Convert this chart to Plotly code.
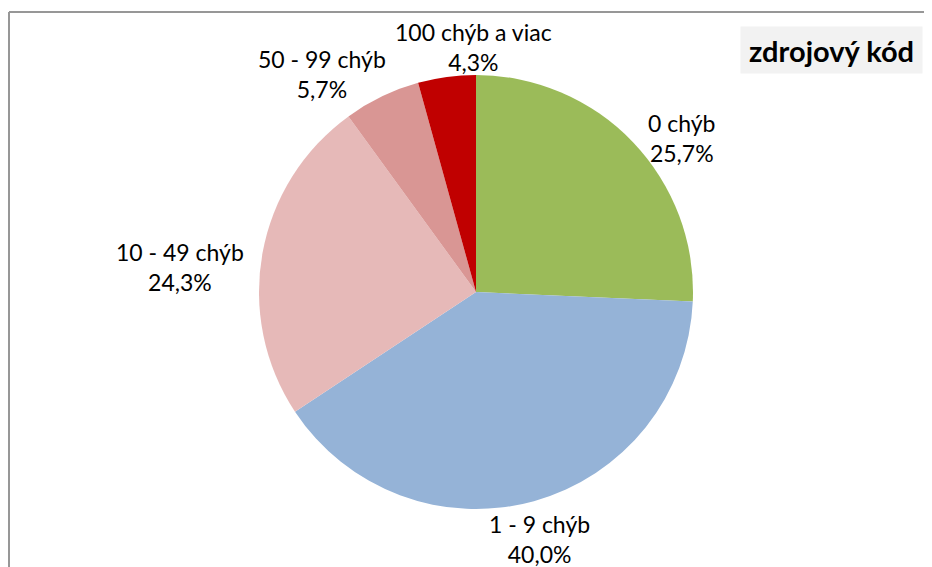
import plotly.graph_objects as go

# slices clockwise from 12 o'clock
labels = ["0 chýb", "1 - 9 chýb", "10 - 49 chýb", "50 - 99 chýb", "100 chýb a viac"]
shares = [25.7, 40.0, 24.3, 5.7, 4.3]
colors = ["#9BBB59", "#95B3D7", "#E6B9B8", "#D99694", "#C00000"]

# the page puts the figure 8px in from the top-left corner
OFF = 8
W, H = 932 - OFF, 567 - OFF
FONT = "Lato, Open Sans, sans-serif"


def fx(px):
    return (px - OFF) / W


def fy(py):
    return 1 - (py - OFF) / H


# where each data label sits (page pixel centre of the text block)
label_xy = [(682, 138), (539, 539), (180, 267), (322, 74), (474, 47)]

fig = go.Figure(go.Pie(
    labels=labels,
    values=shares,
    sort=False,
    direction="clockwise",
    rotation=0,
    marker=dict(colors=colors, line=dict(color="white", width=0)),
    textinfo="none",
    showlegend=False,
    hoverinfo="label+percent",
    domain=dict(x=[fx(259), fx(693)], y=[fy(509), fy(75)]),
))

annots = []
for lab, val, (px, py) in zip(labels, shares, label_xy):
    txt = f"{lab}<br>{val:.1f}%".replace(".", ",")
    annots.append(dict(text=txt, xref="paper", yref="paper",
                       x=fx(px), y=fy(py), xanchor="center", yanchor="middle",
                       showarrow=False, align="center",
                       font=dict(family=FONT, size=23, color="#000000")))

# title box
annots.append(dict(text="<b>zdrojový kód</b>", xref="paper", yref="paper",
                   x=fx(831.5), y=fy(50), xanchor="center", yanchor="middle",
                   showarrow=False, bgcolor="#F2F2F2", borderpad=0,
                   width=181, height=46,
                   font=dict(family=FONT, size=29, color="#000000")))

fig.update_layout(
    width=W, height=H,
    margin=dict(l=0, r=0, t=0, b=0),
    paper_bgcolor="white",
    shapes=[
        # chart frame, cut off on the right and bottom
        dict(type="line", xref="paper", yref="paper",
             x0=1 / W, x1=1.0, y0=1 - 3.9 / H, y1=1 - 3.9 / H,
             line=dict(color="#979797", width=2)),
        dict(type="line", xref="paper", yref="paper",
             x0=1 / W, x1=1 / W, y0=0, y1=1 - 3.9 / H,
             line=dict(color="#979797", width=2)),
    ],
    annotations=annots,
)

fig.write_html("out.html")
